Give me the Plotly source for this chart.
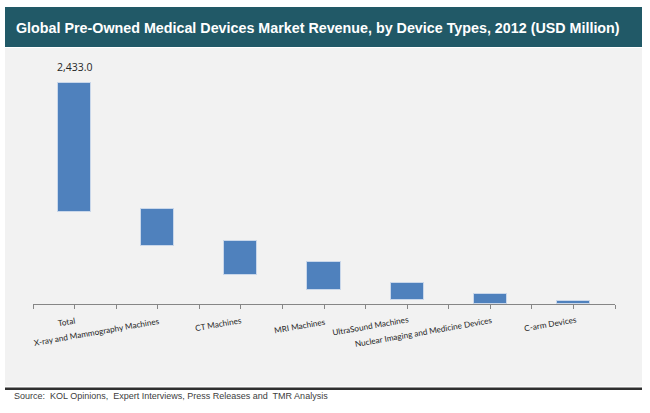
import plotly.graph_objects as go

# data (USD Million)
device_types = ["Total", "X-ray and Mammography Machines", "CT Machines", "MRI Machines",
                "UltraSound Machines", "Nuclear Imaging and Medicine Devices", "C-arm Devices"]
bar_top = [2433.0, 1043, 695, 460, 226, 105, 38]
bar_bottom = [1010, 644, 321, 149, 39, 0, 0]
total_label = "2,433.0"

title = "Global Pre-Owned Medical Devices Market Revenue, by Device Types, 2012 (USD Million)"
source = "Source:  KOL Opinions,  Expert Interviews, Press Releases and  TMR Analysis"

# pixel layout (650 x 413 page)
W_PX, H_PX = 650, 413
L, R, T, B = 33, 35, 60, 108.5
PW, PH = W_PX - L - R, H_PX - T - B
PX_PER_UNIT = 221.2 / 2433.0

# label centres in pixels (x, y), staggered like the original
label_pos = [(66, 323), (96, 333), (219, 325), (300, 327), (370, 327), (424, 333), (550, 325)]


def px(x):
    return (x - L) / PW


def py(y):
    return (H_PX - B - y) / PH


xpos = [i + 0.5 for i in range(len(device_types))]
heights = [t - b for t, b in zip(bar_top, bar_bottom)]

fig = go.Figure()
fig.add_trace(go.Bar(
    x=xpos, y=heights, base=bar_bottom, width=0.4,
    marker=dict(color="#4f81bd", line=dict(color="#c9d7ea", width=1)),
    hoverinfo="skip", showlegend=False,
))

shapes = [
    dict(type="rect", xref="paper", yref="paper", x0=px(5), x1=px(642), y0=py(48), y1=py(387),
         fillcolor="#f2f2f2", line_width=0, layer="below"),
    dict(type="rect", xref="paper", yref="paper", x0=px(5), x1=px(642), y0=py(7), y1=py(47),
         fillcolor="#215967", line_width=0, layer="below"),
    dict(type="line", xref="paper", yref="paper", x0=px(5), x1=px(642), y0=py(389.5), y1=py(389.5),
         line=dict(color="#303030", width=2.5)),
]

annotations = [
    dict(text="<b>" + title + "</b>", xref="paper", yref="paper", x=px(14), y=py(27.5),
         xanchor="left", yanchor="middle", showarrow=False,
         font=dict(family="Liberation Sans, Arial", size=14.3, color="white")),
    dict(text=source, xref="paper", yref="paper", x=px(12), y=py(397),
         xanchor="left", yanchor="middle", showarrow=False,
         font=dict(family="Liberation Sans, Arial", size=9, color="#404040")),
    dict(text=total_label, x=xpos[0], y=bar_top[0], xref="x", yref="y", yshift=7,
         xanchor="center", yanchor="bottom", showarrow=False,
         font=dict(family="Open Sans, Liberation Sans", size=10.5, color="#262626")),
]
for name, (lx, ly) in zip(device_types, label_pos):
    annotations.append(dict(text=name, xref="paper", yref="paper", x=px(lx), y=py(ly),
                            xanchor="center", yanchor="middle", textangle=-10, showarrow=False,
                            font=dict(family="Lato, Open Sans", size=8.2, color="#262626")))

fig.update_layout(
    width=W_PX, height=H_PX,
    margin=dict(l=L, r=R, t=T, b=B, pad=0),
    paper_bgcolor="white", plot_bgcolor="rgba(0,0,0,0)",
    shapes=shapes, annotations=annotations,
    bargap=0,
    xaxis=dict(range=[0, len(device_types)], tickvals=[i * 0.5 for i in range(2 * len(device_types) + 1)],
               ticktext=[""] * (2 * len(device_types) + 1), ticks="outside", ticklen=4,
               tickcolor="#868686", showline=True, linecolor="#868686", linewidth=1,
               showgrid=False, zeroline=False, fixedrange=True),
    yaxis=dict(range=[0, PH / PX_PER_UNIT], visible=False, fixedrange=True),
)

fig.write_html("out.html", config={"displayModeBar": False},
               post_script="document.body.style.margin='0px';")
